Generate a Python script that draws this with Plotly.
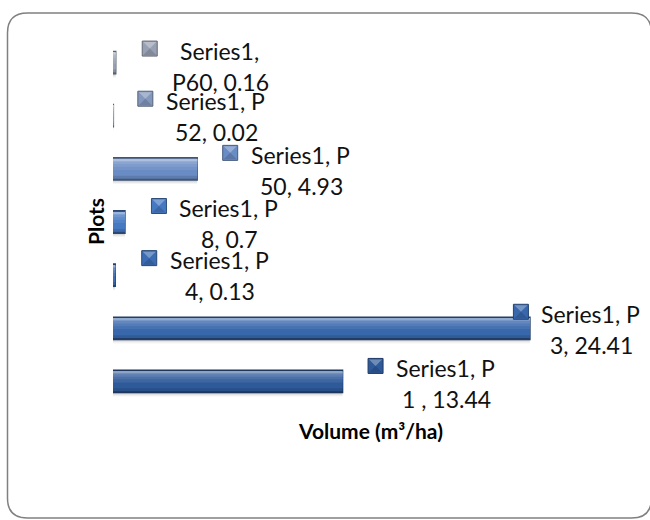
import plotly.graph_objects as go

# ---- data -------------------------------------------------------------
categories = ["P 1 ", "P 3", "P 4", "P 8", "P 50", "P 52", "P60"]
volumes = [13.44, 24.41, 0.13, 0.7, 4.93, 0.02, 0.16]
series_name = "Series1"
x_title = "Volume (m³/ha)"
y_title = "Plots"

# ---- styling ----------------------------------------------------------
point_colors = ["#2F5A9A", "#3867AC", "#3C6DB4", "#4679C2", "#6A8CC4", "#8497BC", "#98A1B4"]
# offset of each data label (legend key centre) from the bar end, in px (right, down)
label_dx = [33, -9, 34, 34, 33, 32, 34]
label_dy = [-15.5, -16.5, -17, -16, -16, -17, -14]
FONT = "Lato, 'Open Sans', sans-serif"

W, H = 650, 520
M_L, M_R, M_T, M_B = 113, 110, 36, 112
PLOT_W = W - M_L - M_R
PLOT_H = H - M_T - M_B


def mix(hex_color, target, t):
    r, g, b = (int(hex_color[i:i + 2], 16) for i in (1, 3, 5))
    tr, tg, tb = target
    return "#%02x%02x%02x" % (round(r + (tr - r) * t), round(g + (tg - g) * t), round(b + (tb - b) * t))


def darker(c, t):
    return mix(c, (0, 0, 0), t)


def lighter(c, t):
    return mix(c, (255, 255, 255), t)


def label_lines(cat, val, width=10):
    text = f"{series_name}, {cat}, {val:g}"
    cut = text.rfind(" ", 0, width + 1)
    return text[:cut], text[cut + 1:]


ypos = list(range(len(categories)))
fig = go.Figure()

# soft drop shadow under each bar
for off, a in ((-0.285, 0.04), (-0.265, 0.05), (-0.245, 0.06), (-0.225, 0.07)):
    fig.add_trace(go.Bar(
        x=volumes, y=ypos, orientation="h", width=0.42, offset=off,
        marker=dict(color=f"rgba(0,0,0,{a})", line=dict(width=0)),
        hoverinfo="skip"))

# bevelled bar body: dark rim, then bands getting lighter towards the top edge
bands = [
    (-0.21, 0.42, [darker(c, 0.40) for c in point_colors], 1.5),
    (-0.185, 0.37, [darker(c, 0.12) for c in point_colors], 0),
    (-0.13, 0.31, point_colors, 0),
    (-0.02, 0.20, [lighter(c, 0.07) for c in point_colors], 0),
    (0.04, 0.14, [lighter(c, 0.14) for c in point_colors], 0),
    (0.09, 0.09, [lighter(c, 0.22) for c in point_colors], 0),
    (0.135, 0.045, [lighter(c, 0.32) for c in point_colors], 0),
    (0.165, 0.025, [lighter(c, 0.45) for c in point_colors], 0),
]
for off, wd, cols, lw in bands:
    fig.add_trace(go.Bar(
        x=volumes, y=ypos, orientation="h", width=wd, offset=off,
        marker=dict(color=cols, line=dict(width=lw, color=cols)),
        hovertemplate="%{x}<extra></extra>"))

shapes = []
annotations = []
for i, (cat, val) in enumerate(zip(categories, volumes)):
    c = point_colors[i]
    dx, up = label_dx[i], -label_dy[i]
    s = 7.5
    common = dict(xref="x", yref="y", xsizemode="pixel", ysizemode="pixel",
                  xanchor=val, yanchor=i, layer="above")
    # legend key square with a small pyramid bevel
    shapes.append(dict(type="rect", x0=dx - s, x1=dx + s, y0=up - s, y1=up + s,
                       fillcolor=c, line=dict(color=darker(c, 0.35), width=1), **common))
    shapes.append(dict(type="path",
                       path=f"M {dx - s + 1},{up + s - 1} L {dx + s - 1},{up + s - 1} L {dx},{up} Z",
                       fillcolor=lighter(c, 0.30), line=dict(width=0), **common))
    shapes.append(dict(type="path",
                       path=f"M {dx - s + 1},{up - s + 1} L {dx + s - 1},{up - s + 1} L {dx},{up} Z",
                       fillcolor=darker(c, 0.15), line=dict(width=0), **common))

    line1, line2 = label_lines(cat, val)
    annotations.append(dict(x=val, y=i, xref="x", yref="y", text=line1, showarrow=False,
                            xanchor="center", yanchor="middle",
                            xshift=dx + 70, yshift=up - 2,
                            font=dict(family=FONT, size=23, color="#111111")))
    annotations.append(dict(x=val, y=i, xref="x", yref="y", text=line2, showarrow=False,
                            xanchor="center", yanchor="middle",
                            xshift=dx + 71, yshift=up - 33,
                            font=dict(family=FONT, size=23, color="#111111")))


# rounded frame around the whole chart, expressed in paper units
def px_x(px):
    return (px - M_L) / PLOT_W


def px_y(py):
    return (H - M_B - py) / PLOT_H


L, R, T, B, r = 7.5, 651.5, 13, 518, 20
frame = (f"M {px_x(L + r)},{px_y(T)} L {px_x(R - r)},{px_y(T)} "
         f"Q {px_x(R)},{px_y(T)} {px_x(R)},{px_y(T + r)} "
         f"L {px_x(R)},{px_y(B - r)} Q {px_x(R)},{px_y(B)} {px_x(R - r)},{px_y(B)} "
         f"L {px_x(L + r)},{px_y(B)} Q {px_x(L)},{px_y(B)} {px_x(L)},{px_y(B - r)} "
         f"L {px_x(L)},{px_y(T + r)} Q {px_x(L)},{px_y(T)} {px_x(L + r)},{px_y(T)} Z")
shapes.append(dict(type="path", xref="paper", yref="paper", path=frame,
                   line=dict(color="#808080", width=1.5), fillcolor="rgba(0,0,0,0)"))

# axis titles
annotations.append(dict(x=px_x(95), y=0.5, xref="paper", yref="paper", text=f"<b>{y_title}</b>",
                        textangle=-90, showarrow=False, xanchor="center", yanchor="middle",
                        font=dict(family=FONT, size=21, color="#000000")))
annotations.append(dict(x=px_x(370), y=px_y(430), xref="paper", yref="paper", text=f"<b>{x_title}</b>",
                        showarrow=False, xanchor="center", yanchor="middle",
                        font=dict(family=FONT, size=21, color="#000000")))

fig.update_layout(
    width=W, height=H, autosize=False,
    margin=dict(l=M_L, r=M_R, t=M_T, b=M_B, pad=0),
    paper_bgcolor="white", plot_bgcolor="white",
    barmode="overlay", showlegend=False,
    font=dict(family=FONT),
    xaxis=dict(range=[0, 25], showgrid=False, zeroline=False, showticklabels=False,
               showline=False, ticks=""),
    yaxis=dict(range=[-0.5, len(categories) - 0.5], showgrid=False, zeroline=False,
               showticklabels=False, showline=False, ticks=""),
    shapes=shapes, annotations=annotations,
)

fig.write_html("out.html")
